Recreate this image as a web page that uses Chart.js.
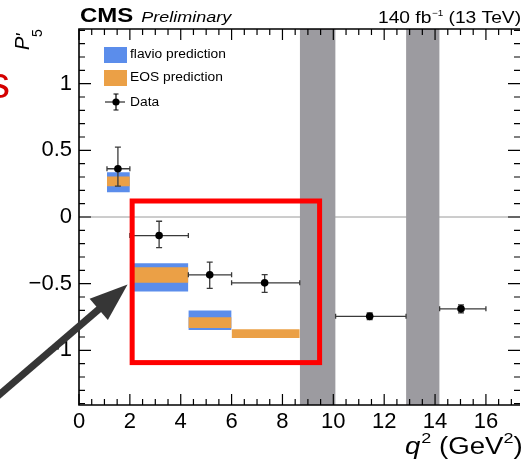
<!DOCTYPE html>
<html>
<head>
<meta charset="utf-8">
<script src="https://cdn.jsdelivr.net/npm/chart.js@4.4.1/dist/chart.umd.min.js"></script>
<style>
  html, body { margin: 0; padding: 0; background: #fff; }
  #wrap { width: 524px; height: 464px; }
</style>
</head>
<body>
<div id="wrap"><canvas id="p5Chart"></canvas></div>
<script>
// q2 bins and measured P5'
const binLo = [1.1, 2.0, 4.3, 6.0, 10.09, 14.18];
const binHi = [2.0, 4.3, 6.0, 8.68, 12.86, 16.0];
const dataX = [1.53, 3.15, 5.14, 7.30, 11.43, 15.02];
const dataY = [0.362, -0.139, -0.434, -0.494, -0.745, -0.689];
const errUp = [0.162, 0.107, 0.095, 0.062, 0.025, 0.03];
const errDn = [0.131, 0.09, 0.101, 0.071, 0.025, 0.03];

// predictions (first bins only)
const flavioLo = [0.186, -0.559, -0.847];
const flavioHi = [0.336, -0.347, -0.702];
const eosLo = [0.231, -0.494, -0.832, -0.907];
const eosHi = [0.304, -0.377, -0.752, -0.842];

// charmonium veto regions
const vetoLo = [8.68, 12.86];
const vetoHi = [10.09, 14.18];

const xTicks = [0, 2, 4, 6, 8, 10, 12, 14, 16];
const xTickLabels = ["0", "2", "4", "6", "8", "10", "12", "14", "16"];
const yTicks = [-1, -0.5, 0, 0.5, 1];
const yTickLabels = ["\u22121", "\u22120.5", "0", "0.5", "1"];

const X_MIN = 0, X_MAX = 17.34, Y_MIN = -1.41, Y_MAX = 1.41;

const BLUE = "#5b8deb";
const ORANGE = "#eba046";
const GREY = "#9c9ba0";
const FONT = "'Liberation Sans', Arial, Helvetica, sans-serif";

function band(lo, hi, x0, x1, color, order) {
  return {
    data: [{ x: x0, y: hi }, { x: x1, y: hi }],
    fill: { value: lo },
    backgroundColor: color,
    borderColor: "rgba(0,0,0,0)",
    borderWidth: 0,
    pointRadius: 0,
    pointHoverRadius: 0,
    order: order,
  };
}

const datasets = [
  {
    label: "Data",
    data: dataX.map((x, i) => ({ x: x, y: dataY[i] })),
    showLine: false,
    pointRadius: 3.8,
    pointBackgroundColor: "#000",
    pointBorderColor: "#000",
    pointBorderWidth: 0,
    order: 1,
  },
];
eosLo.forEach((lo, i) => datasets.push(band(lo, eosHi[i], binLo[i], binHi[i], ORANGE, 2)));
flavioLo.forEach((lo, i) => datasets.push(band(lo, flavioHi[i], binLo[i], binHi[i], BLUE, 3)));
vetoLo.forEach((lo, i) => datasets.push(band(Y_MIN, Y_MAX, lo, vetoHi[i], GREY, 4)));

// text helper, the slide image is a bit stretched sideways
function stretchText(ctx, txt, x, y, font, sx) {
  ctx.save();
  ctx.font = font;
  ctx.textAlign = "left";
  const w = ctx.measureText(txt).width * sx;
  ctx.translate(x, y);
  ctx.scale(sx, 1);
  ctx.fillText(txt, 0, 0);
  ctx.restore();
  return x + w;
}

const zeroLine = {
  id: "zeroLine",
  beforeDatasetsDraw(chart) {
    const { ctx, chartArea: a, scales } = chart;
    const py = scales.y.getPixelForValue(0);
    ctx.save();
    ctx.strokeStyle = "#9a9a9a";
    ctx.lineWidth = 1;
    ctx.beginPath();
    ctx.moveTo(a.left, py);
    ctx.lineTo(a.right, py);
    ctx.stroke();
    ctx.restore();
  },
};

const errorBars = {
  id: "errorBars",
  beforeDatasetDraw(chart, args) {
    if (args.index !== 0) return;
    const { ctx, scales: { x, y } } = chart;
    ctx.save();
    ctx.strokeStyle = "#3a3a3a";
    ctx.lineWidth = 1.3;
    ctx.beginPath();
    dataX.forEach((xv, i) => {
      const cx = x.getPixelForValue(xv);
      const cy = y.getPixelForValue(dataY[i]);
      const xl = x.getPixelForValue(binLo[i]);
      const xr = x.getPixelForValue(binHi[i]);
      const yt = y.getPixelForValue(dataY[i] + errUp[i]);
      const yb = y.getPixelForValue(dataY[i] - errDn[i]);
      ctx.moveTo(xl, cy); ctx.lineTo(xr, cy);
      ctx.moveTo(xl, cy - 2.5); ctx.lineTo(xl, cy + 2.5);
      ctx.moveTo(xr, cy - 2.5); ctx.lineTo(xr, cy + 2.5);
      ctx.moveTo(cx, yt); ctx.lineTo(cx, yb);
      ctx.moveTo(cx - 3, yt); ctx.lineTo(cx + 3, yt);
      ctx.moveTo(cx - 3, yb); ctx.lineTo(cx + 3, yb);
    });
    ctx.stroke();
    ctx.restore();
  },
};

const frame = {
  id: "frame",
  afterDatasetsDraw(chart) {
    const { ctx, chartArea: a, scales: { x, y } } = chart;
    ctx.save();
    ctx.strokeStyle = "#000";
    ctx.lineWidth = 1.6;
    ctx.beginPath();
    ctx.moveTo(a.right, a.top);
    ctx.lineTo(a.left, a.top);
    ctx.lineTo(a.left, a.bottom);
    ctx.lineTo(a.right, a.bottom);
    ctx.stroke();

    ctx.lineWidth = 1.2;
    ctx.beginPath();
    for (let k = 0; k * 0.5 <= X_MAX; k++) {
      const p = x.getPixelForValue(k * 0.5);
      const len = k % 4 === 0 ? 11 : 6;
      ctx.moveTo(p, a.bottom); ctx.lineTo(p, a.bottom - len);
      ctx.moveTo(p, a.top); ctx.lineTo(p, a.top + len);
    }
    for (let k = -14; k <= 14; k++) {
      const p = y.getPixelForValue(k / 10);
      const len = k % 5 === 0 ? 12 : 6;
      ctx.moveTo(a.left, p); ctx.lineTo(a.left + len, p);
      ctx.moveTo(a.right, p); ctx.lineTo(a.right - len, p);
    }
    ctx.stroke();
    ctx.restore();
  },
};

const decorations = {
  id: "decorations",
  afterDraw(chart) {
    const { ctx, chartArea: a, scales: { x, y } } = chart;
    ctx.save();
    ctx.fillStyle = "#000";
    ctx.textBaseline = "alphabetic";

    // header
    const e = stretchText(ctx, "CMS", a.left + 1, 22, "bold 20px " + FONT, 1.2);
    stretchText(ctx, "Preliminary", e + 8, 22, "italic 15px " + FONT, 1.2);
    let lx = 378;
    lx = stretchText(ctx, "140 fb", lx, 23, "16px " + FONT, 1.2);
    lx = stretchText(ctx, "\u22121", lx + 0.5, 16, "9px " + FONT, 1.1);
    stretchText(ctx, " (13 TeV)", lx, 23, "16px " + FONT, 1.2);

    // y title P'_5
    ctx.save();
    ctx.translate(29, 50);
    ctx.rotate(-Math.PI / 2);
    ctx.font = "italic 20px " + FONT;
    ctx.fillText("P", 0, 0);
    ctx.font = "italic 18px " + FONT;
    ctx.fillText("'", 13, 0);
    ctx.font = "14px " + FONT;
    ctx.fillText("5", 13, 13);
    ctx.restore();

    // x title q^2 (GeV^2)
    let qx = 405;
    qx = stretchText(ctx, "q", qx, 454, "italic 23px " + FONT, 1.2);
    qx = stretchText(ctx, "2", qx + 1, 443, "15px " + FONT, 1.2);
    qx = stretchText(ctx, " (GeV", qx, 454, "23px " + FONT, 1.2);
    qx = stretchText(ctx, "2", qx, 443, "15px " + FONT, 1.2);
    stretchText(ctx, ")", qx, 454, "23px " + FONT, 1.2);

    // legend
    ctx.fillStyle = BLUE;
    ctx.fillRect(104, 47, 23, 16);
    ctx.fillStyle = ORANGE;
    ctx.fillRect(104, 70, 23, 16);
    ctx.fillStyle = "#000";
    ctx.textBaseline = "middle";
    stretchText(ctx, "flavio prediction", 130, 55, "12px " + FONT, 1.15);
    stretchText(ctx, "EOS prediction", 130, 78, "12px " + FONT, 1.15);
    stretchText(ctx, "Data", 130, 103, "12px " + FONT, 1.15);
    ctx.strokeStyle = "#000";
    ctx.lineWidth = 1.2;
    ctx.beginPath();
    ctx.moveTo(105, 102); ctx.lineTo(125, 102);
    ctx.moveTo(116, 94); ctx.lineTo(116, 110);
    ctx.moveTo(113.5, 94); ctx.lineTo(118.5, 94);
    ctx.moveTo(113.5, 110); ctx.lineTo(118.5, 110);
    ctx.stroke();
    ctx.beginPath();
    ctx.arc(116, 102, 3.6, 0, Math.PI * 2);
    ctx.fill();

    // slide annotation: red box around low-q2 bins and arrow
    ctx.strokeStyle = "#ff0000";
    ctx.lineWidth = 5;
    const bx0 = x.getPixelForValue(2.09), bx1 = x.getPixelForValue(9.46);
    const by0 = y.getPixelForValue(0.12), by1 = y.getPixelForValue(-1.092);
    ctx.strokeRect(bx0, by0, bx1 - bx0, by1 - by0);

    const tx = x.getPixelForValue(1.91), ty = y.getPixelForValue(-0.507);
    const sx0 = x.getPixelForValue(-3.3), sy0 = y.getPixelForValue(-1.36);
    const dx = tx - sx0, dy = ty - sy0, L = Math.hypot(dx, dy);
    const ux = dx / L, uy = dy / L;
    const hx = tx - ux * 38, hy = ty - uy * 38;
    ctx.strokeStyle = "#363636";
    ctx.fillStyle = "#363636";
    ctx.lineWidth = 7;
    ctx.beginPath();
    ctx.moveTo(sx0, sy0);
    ctx.lineTo(hx + ux * 4, hy + uy * 4);
    ctx.stroke();
    ctx.beginPath();
    ctx.moveTo(tx, ty);
    ctx.lineTo(hx - uy * 14, hy + ux * 14);
    ctx.lineTo(hx + uy * 14, hy - ux * 14);
    ctx.closePath();
    ctx.fill();

    // cut-off slide text on the left
    ctx.fillStyle = "#d40000";
    ctx.textBaseline = "alphabetic";
    ctx.font = "44px " + FONT;
    ctx.fillText("s", -12, 98);
    ctx.restore();
  },
};

const ctx = document.getElementById("p5Chart").getContext("2d");
new Chart(ctx, {
  type: "line",
  data: { datasets: datasets },
  options: {
    responsive: true,
    maintainAspectRatio: false,
    animation: false,
    events: [],
    layout: { padding: { top: 29, right: 0, left: 0, bottom: 0 } },
    plugins: {
      legend: { display: false },
      tooltip: { enabled: false },
      filler: { propagate: false },
    },
    scales: {
      x: {
        type: "linear",
        min: X_MIN,
        max: X_MAX,
        grid: { display: false, drawTicks: false },
        border: { display: false },
        afterBuildTicks: (s) => { s.ticks = xTicks.map((v) => ({ value: v })); },
        afterFit: (s) => { s.height = 59; },
        ticks: {
          autoSkip: false,
          maxRotation: 0,
          padding: 4,
          color: "#000",
          font: { family: FONT, size: 22 },
          callback: (v, i) => xTickLabels[i],
        },
      },
      y: {
        type: "linear",
        min: Y_MIN,
        max: Y_MAX,
        grid: { display: false, drawTicks: false },
        border: { display: false },
        afterBuildTicks: (s) => { s.ticks = yTicks.map((v) => ({ value: v })); },
        afterFit: (s) => { s.width = 79; },
        ticks: {
          autoSkip: false,
          padding: 7,
          color: "#000",
          font: { family: FONT, size: 22 },
          callback: (v, i) => yTickLabels[i],
        },
      },
    },
  },
  plugins: [zeroLine, errorBars, frame, decorations],
});
</script>
</body>
</html>
